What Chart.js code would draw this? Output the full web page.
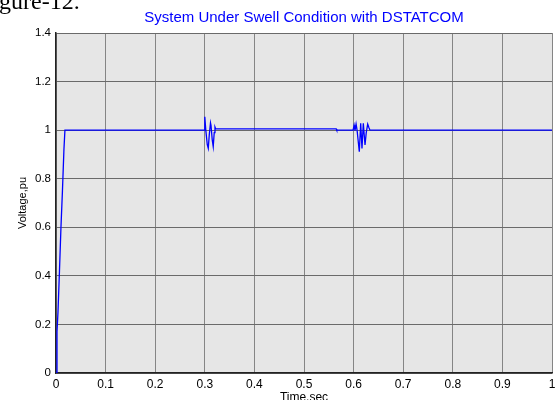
<!DOCTYPE html>
<html>
<head>
<meta charset="utf-8">
<script src="https://cdn.jsdelivr.net/npm/chart.js@4"></script>
<style>
  html, body { margin: 0; padding: 0; background: #ffffff; }
  #wrap { position: relative; width: 556px; height: 400px; overflow: hidden; }
  #cap { position: absolute; left: -1px; top: -11px; font-family: "Liberation Serif", "DejaVu Serif", serif; font-size: 24px; line-height: 24px; color: #000; white-space: nowrap; }
  canvas { position: absolute; left: 0; top: 0; }
</style>
</head>
<body>
<div id="wrap">
  <canvas id="c" width="556" height="400"></canvas>
  <div id="cap">gure-12.</div>
</div>
<script>
// ---- data ----
const titleText = 'System Under Swell Condition with DSTATCOM';
const xAxisTitle = 'Time,sec';
const yAxisTitle = 'Voltage,pu';

const timeSec = [
  0, 0.002, 0.004, 0.007, 0.010, 0.013, 0.016, 0.018,
  0.299, 0.300, 0.302, 0.305, 0.307, 0.309, 0.3115, 0.3125, 0.315, 0.317, 0.319, 0.3205, 0.322,
  0.565, 0.566,
  0.599, 0.601, 0.6028, 0.605, 0.607, 0.6115, 0.6143, 0.6169, 0.6196, 0.623, 0.6255, 0.6284, 0.631, 0.633,
  1.0
];
const voltagePu = [
  0, 0.17, 0.25, 0.42, 0.60, 0.75, 0.92, 1.0,
  1.0, 1.055, 1.0, 0.94, 0.925, 0.98, 1.03, 1.02, 0.96, 0.932, 0.99, 1.013, 1.005,
  1.005, 1.0,
  1.0, 1.02, 0.998, 1.025, 1.0, 0.911, 1.028, 0.925, 1.028, 0.939, 0.99, 1.025, 1.01, 1.0,
  1.0
];

const xTickValues = [0, 0.1, 0.2, 0.3, 0.4, 0.5, 0.6, 0.7, 0.8, 0.9, 1];
const xTickLabels = ['0', '0.1', '0.2', '0.3', '0.4', '0.5', '0.6', '0.7', '0.8', '0.9', '1'];
const yTickValues = [0, 0.2, 0.4, 0.6, 0.8, 1, 1.2, 1.4];
const yTickLabels = ['0', '0.2', '0.4', '0.6', '0.8', '1', '1.2', '1.4'];

// ---- chart ----
const points = timeSec.map((t, i) => ({ x: t, y: voltagePu[i] }));
const FONT = '"Liberation Sans", Arial, sans-serif';

const plotBg = {
  id: 'plotBg',
  beforeDraw(chart) {
    const { ctx, chartArea: a } = chart;
    ctx.save();
    ctx.fillStyle = '#e6e6e6';
    ctx.fillRect(a.left, a.top, a.right - a.left, a.bottom - a.top);
    ctx.restore();
  },
  afterDraw(chart) {
    const { ctx, chartArea: a } = chart;
    ctx.save();
    ctx.fillStyle = '#0000ff';
    ctx.font = '15px ' + FONT;
    ctx.textAlign = 'center';
    ctx.textBaseline = 'middle';
    ctx.fillText(titleText, (a.left + a.right) / 2, 17.5);
    ctx.restore();
  }
};

new Chart(document.getElementById('c'), {
  type: 'line',
  data: {
    datasets: [{
      data: points,
      borderColor: '#0000ff',
      borderWidth: 1.3,
      pointRadius: 0,
      tension: 0,
      fill: false
    }]
  },
  options: {
    responsive: false,
    animation: false,
    events: [],
    layout: { padding: { top: 33, right: 4, left: 0, bottom: 0 } },
    plugins: { legend: { display: false }, tooltip: { enabled: false }, title: { display: false } },
    scales: {
      x: {
        type: 'linear',
        min: 0, max: 1,
        afterBuildTicks(s) { s.ticks = xTickValues.map(v => ({ value: v })); },
        afterFit(s) { s.height = 27; s.paddingRight = 0; s.paddingLeft = 0; },
        ticks: {
          color: '#000',
          font: { family: FONT, size: 12 },
          padding: 4,
          maxRotation: 0,
          autoSkip: false,
          callback: (v, i) => xTickLabels[i]
        },
        grid: { color: '#858585', lineWidth: 1, drawTicks: false },
        border: { color: '#222', width: 1.5 },
        title: {
          display: true, text: xAxisTitle, color: '#000',
          font: { family: FONT, size: 12 },
          padding: { top: 0, bottom: -5 }
        }
      },
      y: {
        type: 'linear',
        min: 0, max: 1.4,
        afterBuildTicks(s) { s.ticks = yTickValues.map(v => ({ value: v })); },
        afterFit(s) { s.width = 56; s.paddingTop = 0; s.paddingBottom = 0; },
        ticks: {
          color: '#000',
          font: { family: FONT, size: 11.5 },
          padding: 5,
          autoSkip: false,
          callback: (v, i) => yTickLabels[i]
        },
        grid: { color: '#6a6a6a', lineWidth: 1, drawTicks: false, borderDash: [3, 1] },
        border: { color: '#222', width: 1.5 },
        title: {
          display: true, text: yAxisTitle, color: '#000',
          font: { family: FONT, size: 11 },
          padding: { top: 16.4, bottom: 0 }
        }
      }
    }
  },
  plugins: [plotBg]
});
</script>
</body>
</html>
